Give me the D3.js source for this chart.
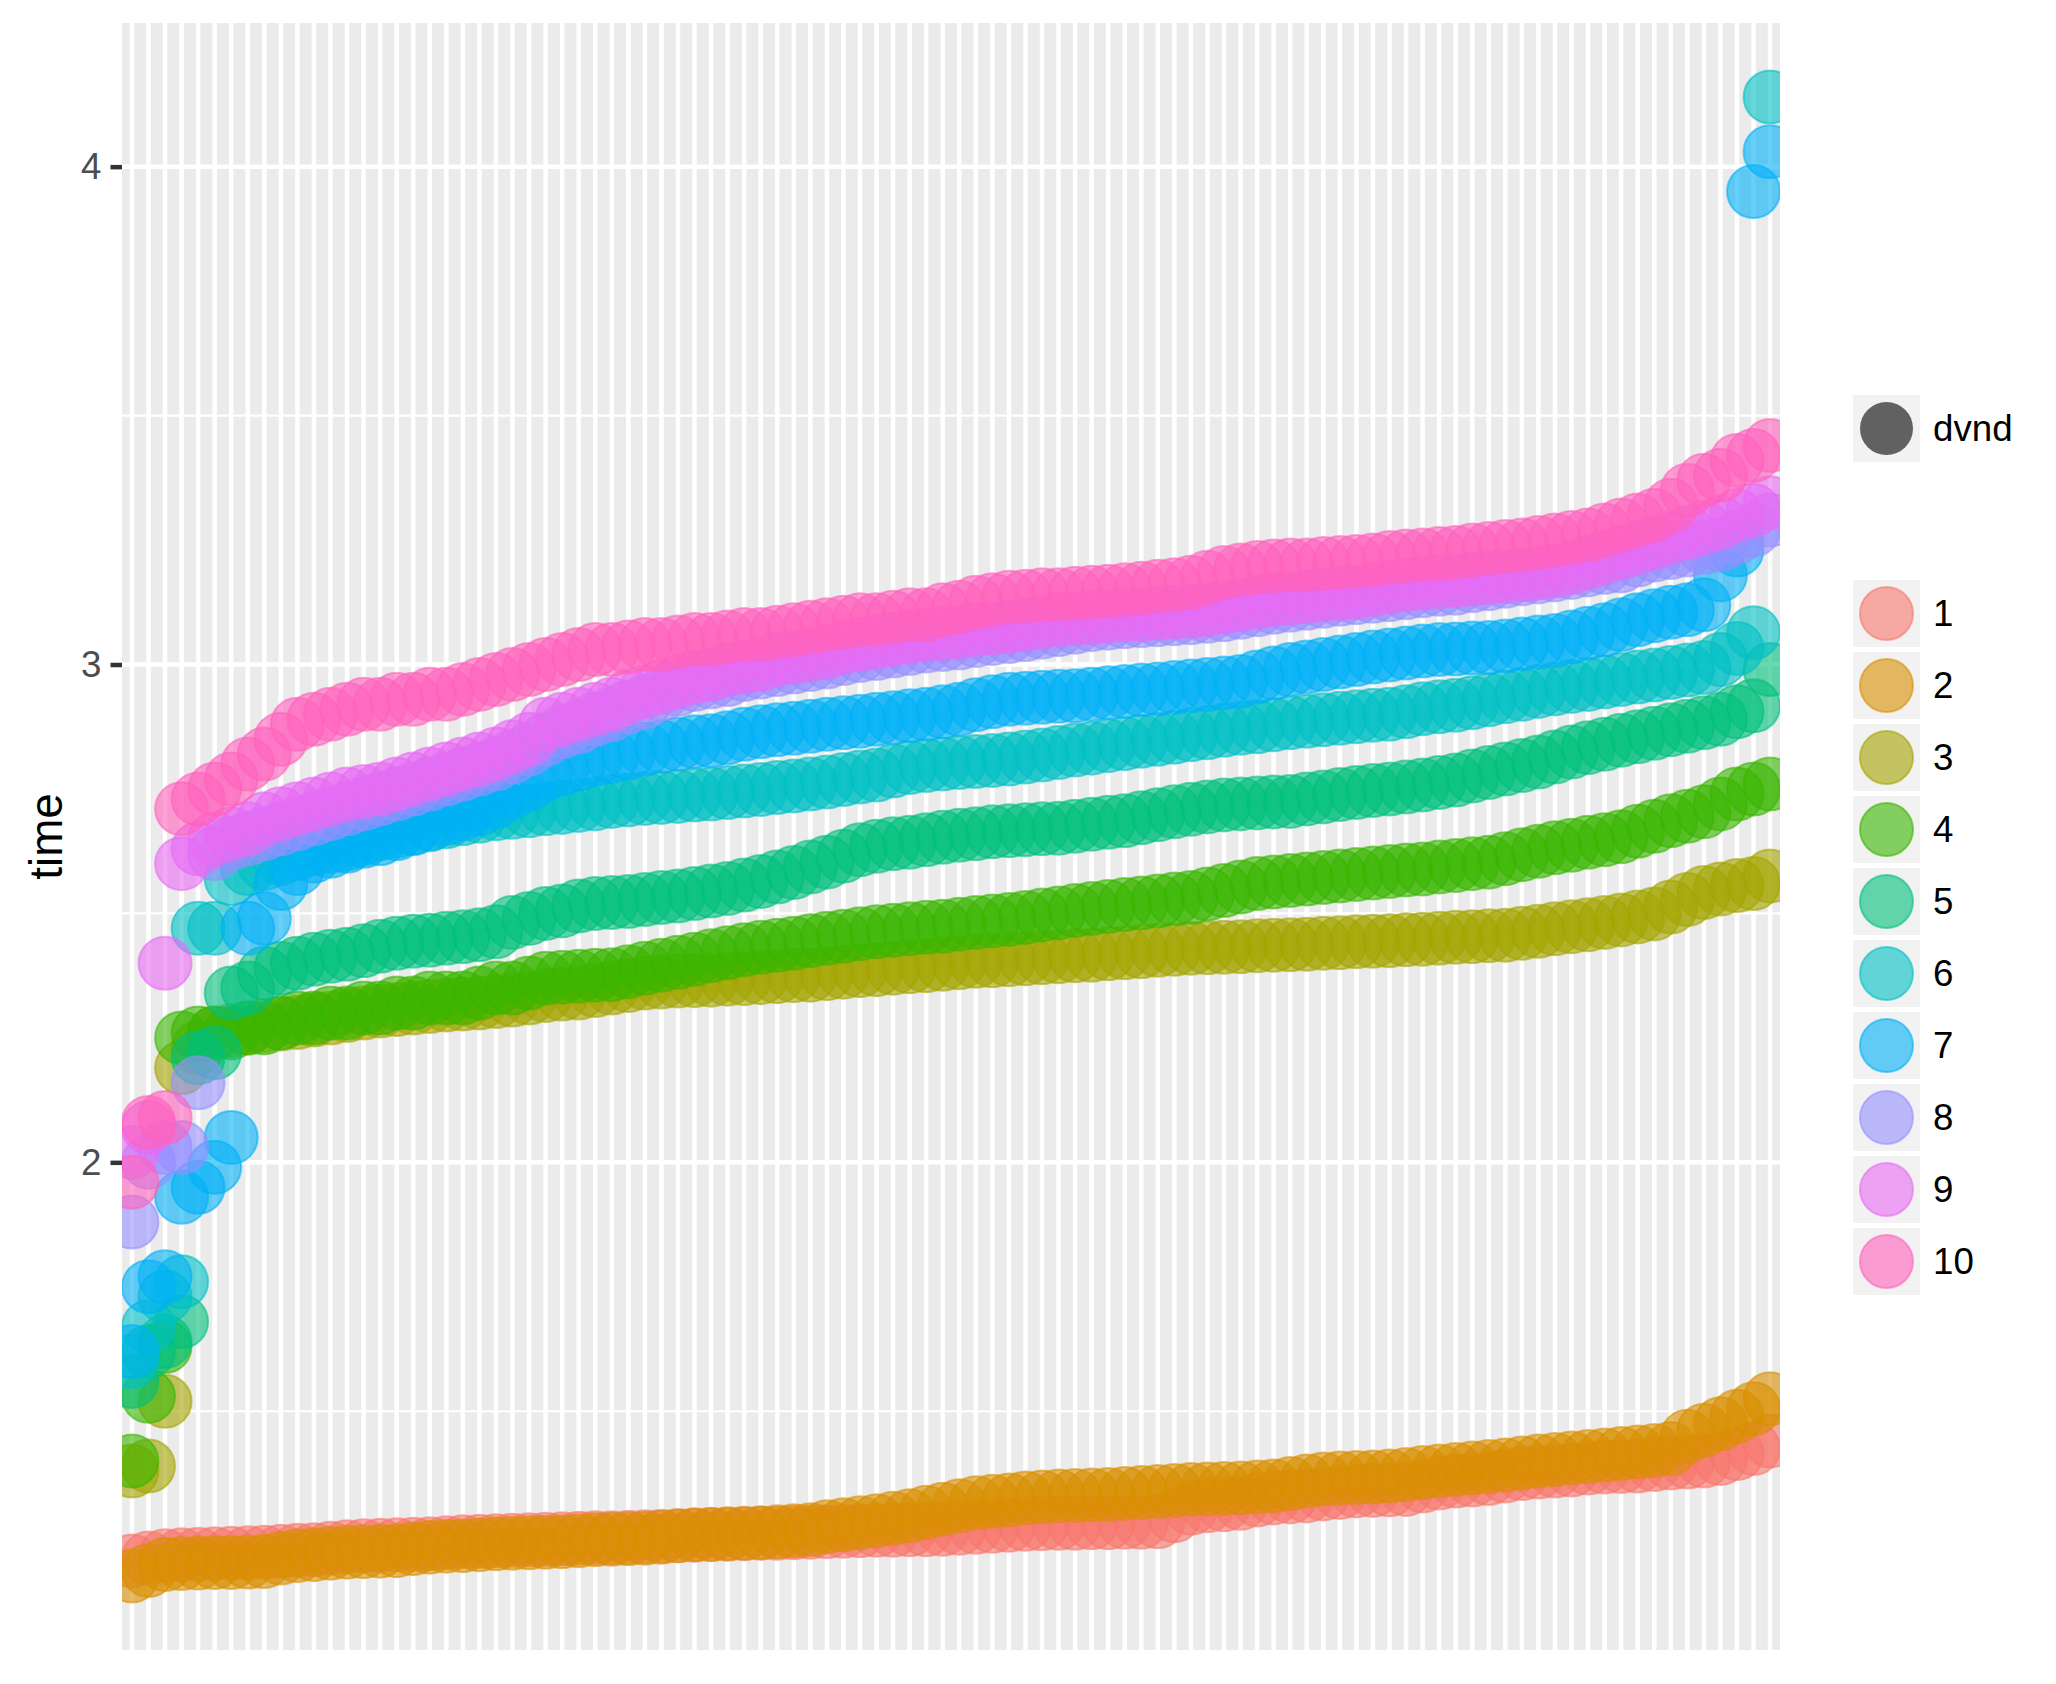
<!DOCTYPE html>
<html>
<head>
<meta charset="utf-8">
<script src="https://cdn.jsdelivr.net/npm/d3@7"></script>
<style>
  html, body { margin: 0; padding: 0; background: #ffffff; }
  svg { display: block; font-family: "Liberation Sans", Arial, Helvetica, sans-serif; }
</style>
</head>
<body>
<svg id="chart" width="2056" height="1684"></svg>
<script>
// ---------------- DATA ----------------
const categories = Array.from({ length: 100 }, (_, k) => String(k + 1));
const seriesNames = ["1", "2", "3", "4", "5", "6", "7", "8", "9", "10"];
const seriesColors = ["#F8766D", "#D89000", "#A3A500", "#39B600", "#00BF7D",
                      "#00BFC4", "#00B0F6", "#9590FF", "#E76BF3", "#FF62BC"];
const yTicks = [2, 3, 4];
const yMinorTicks = [1.5, 2.5, 3.5];
const sizeLegendLabel = "dvnd";
const yTitle = "time";

const series1 = [1.199,1.205,1.21,1.212,1.213,1.214,1.215,1.216,1.217,1.219,
 1.221,1.222,1.225,1.228,1.23,1.231,1.232,1.233,1.234,1.236,
 1.238,1.239,1.24,1.241,1.242,1.243,1.244,1.245,1.246,1.246,
 1.247,1.248,1.249,1.25,1.251,1.252,1.253,1.254,1.255,1.255,
 1.256,1.257,1.258,1.259,1.26,1.261,1.261,1.262,1.262,1.263,
 1.265,1.267,1.269,1.271,1.273,1.274,1.275,1.275,1.276,1.276,
 1.277,1.277,1.278,1.29,1.305,1.31,1.312,1.315,1.322,1.326,
 1.328,1.33,1.334,1.337,1.34,1.341,1.342,1.343,1.35,1.356,
 1.36,1.362,1.365,1.37,1.375,1.378,1.38,1.382,1.386,1.388,
 1.389,1.39,1.393,1.396,1.398,1.40,1.405,1.415,1.425,1.44];
const series2 = [1.169,1.18,1.192,1.194,1.195,1.196,1.196,1.197,1.198,1.205,
 1.21,1.212,1.215,1.217,1.218,1.219,1.22,1.224,1.227,1.229,
 1.23,1.232,1.234,1.235,1.236,1.237,1.238,1.24,1.242,1.243,
 1.244,1.245,1.247,1.25,1.252,1.253,1.254,1.255,1.256,1.258,
 1.26,1.262,1.268,1.272,1.276,1.28,1.285,1.29,1.297,1.303,
 1.31,1.316,1.319,1.322,1.326,1.328,1.33,1.331,1.332,1.333,
 1.335,1.337,1.339,1.341,1.343,1.344,1.345,1.346,1.348,1.35,
 1.355,1.36,1.364,1.366,1.367,1.368,1.37,1.373,1.377,1.38,
 1.383,1.386,1.389,1.392,1.396,1.40,1.403,1.406,1.409,1.412,
 1.415,1.418,1.421,1.425,1.45,1.462,1.475,1.49,1.505,1.525];
const series3 = [1.38,1.39,1.52,2.19,2.23,2.26,2.265,2.27,2.275,2.278,
 2.281,2.286,2.29,2.295,2.30,2.304,2.307,2.31,2.313,2.316,
 2.318,2.32,2.323,2.326,2.33,2.335,2.338,2.34,2.345,2.35,
 2.355,2.36,2.362,2.364,2.365,2.366,2.368,2.369,2.371,2.373,
 2.375,2.376,2.379,2.382,2.385,2.387,2.39,2.393,2.395,2.398,
 2.401,2.404,2.405,2.407,2.409,2.411,2.413,2.415,2.416,2.419,
 2.421,2.423,2.426,2.428,2.43,2.431,2.432,2.433,2.435,2.436,
 2.437,2.438,2.44,2.441,2.443,2.444,2.445,2.447,2.448,2.45,
 2.452,2.453,2.455,2.456,2.46,2.464,2.469,2.473,2.477,2.482,
 2.487,2.493,2.499,2.513,2.528,2.542,2.549,2.556,2.56,2.575];
const series4 = [1.40,1.53,1.63,2.25,2.26,2.26,2.26,2.27,2.27,2.28,
 2.29,2.29,2.30,2.30,2.31,2.31,2.32,2.32,2.33,2.33,
 2.33,2.34,2.35,2.35,2.36,2.37,2.372,2.374,2.376,2.377,
 2.383,2.39,2.396,2.402,2.408,2.415,2.421,2.427,2.432,2.436,
 2.44,2.445,2.45,2.454,2.459,2.463,2.466,2.469,2.472,2.474,
 2.478,2.482,2.485,2.488,2.492,2.497,2.501,2.506,2.51,2.514,
 2.518,2.521,2.525,2.529,2.532,2.539,2.546,2.553,2.56,2.563,
 2.566,2.569,2.572,2.575,2.578,2.581,2.584,2.587,2.589,2.593,
 2.596,2.60,2.603,2.61,2.618,2.625,2.632,2.637,2.643,2.648,
 2.654,2.665,2.675,2.686,2.695,2.704,2.72,2.74,2.75,2.76];
const series5 = [1.56,1.62,1.64,1.68,2.21,2.22,2.34,2.35,2.38,2.39,
 2.40,2.408,2.414,2.418,2.425,2.434,2.44,2.444,2.446,2.45,
 2.453,2.457,2.463,2.482,2.49,2.50,2.505,2.515,2.52,2.522,
 2.524,2.528,2.532,2.535,2.54,2.545,2.55,2.557,2.564,2.573,
 2.582,2.593,2.603,2.615,2.628,2.635,2.64,2.643,2.648,2.653,
 2.657,2.66,2.664,2.666,2.668,2.67,2.671,2.675,2.679,2.683,
 2.686,2.692,2.698,2.704,2.709,2.714,2.718,2.72,2.722,2.724,
 2.725,2.73,2.734,2.739,2.743,2.747,2.75,2.754,2.758,2.763,
 2.768,2.776,2.783,2.79,2.797,2.804,2.814,2.824,2.833,2.84,
 2.848,2.855,2.862,2.869,2.876,2.883,2.89,2.905,2.917,2.99];
const series6 = [1.60,1.67,1.73,1.76,2.47,2.47,2.57,2.59,2.60,2.61,
 2.62,2.63,2.635,2.64,2.65,2.66,2.665,2.672,2.678,2.684,
 2.69,2.695,2.70,2.703,2.706,2.71,2.713,2.717,2.72,2.725,
 2.728,2.731,2.733,2.735,2.738,2.74,2.743,2.746,2.749,2.753,
 2.756,2.76,2.764,2.769,2.774,2.778,2.786,2.793,2.797,2.80,
 2.803,2.805,2.807,2.81,2.814,2.818,2.823,2.828,2.832,2.837,
 2.841,2.846,2.85,2.854,2.859,2.863,2.868,2.872,2.875,2.879,
 2.883,2.886,2.889,2.892,2.895,2.898,2.90,2.905,2.911,2.915,
 2.918,2.923,2.929,2.935,2.94,2.946,2.951,2.956,2.96,2.965,
 2.97,2.975,2.979,2.984,2.989,2.994,3.01,3.032,3.064,4.14];
const series7 = [1.62,1.75,1.77,1.93,1.95,1.99,2.05,2.47,2.49,2.56,
 2.59,2.615,2.625,2.635,2.645,2.65,2.66,2.67,2.68,2.69,
 2.70,2.71,2.725,2.745,2.76,2.78,2.79,2.80,2.81,2.815,
 2.822,2.83,2.835,2.84,2.845,2.847,2.853,2.86,2.865,2.869,
 2.872,2.876,2.88,2.883,2.886,2.89,2.893,2.897,2.90,2.905,
 2.91,2.919,2.925,2.93,2.932,2.934,2.936,2.937,2.94,2.943,
 2.946,2.949,2.951,2.954,2.957,2.96,2.963,2.966,2.975,2.983,
 2.99,2.995,3.00,3.005,3.01,3.015,3.019,3.023,3.027,3.03,
 3.031,3.033,3.034,3.037,3.041,3.045,3.048,3.055,3.063,3.07,
 3.08,3.09,3.098,3.105,3.11,3.12,3.18,3.23,3.95,4.03];
const series8 = [1.88,2.00,2.03,2.03,2.16,2.62,2.64,2.65,2.66,2.67,
 2.68,2.69,2.70,2.71,2.72,2.73,2.74,2.75,2.76,2.77,
 2.78,2.79,2.80,2.815,2.83,2.85,2.865,2.875,2.89,2.90,
 2.915,2.925,2.94,2.95,2.96,2.965,2.97,2.98,2.985,2.99,
 2.995,3.00,3.005,3.012,3.018,3.022,3.027,3.032,3.037,3.04,
 3.043,3.048,3.052,3.056,3.06,3.065,3.07,3.075,3.08,3.083,
 3.086,3.088,3.09,3.092,3.094,3.097,3.10,3.105,3.11,3.115,
 3.119,3.123,3.127,3.131,3.134,3.137,3.14,3.144,3.148,3.151,
 3.153,3.158,3.162,3.167,3.172,3.176,3.18,3.185,3.19,3.195,
 3.198,3.21,3.22,3.225,3.23,3.235,3.24,3.255,3.27,3.29];
const series9 = [2.02,2.07,2.40,2.60,2.63,2.65,2.66,2.67,2.69,2.70,
 2.71,2.72,2.73,2.74,2.745,2.75,2.76,2.77,2.78,2.79,
 2.80,2.81,2.82,2.835,2.85,2.88,2.89,2.90,2.91,2.92,
 2.935,2.945,2.955,2.965,2.975,2.98,2.99,2.995,3.00,3.01,
 3.015,3.02,3.025,3.035,3.04,3.045,3.05,3.055,3.06,3.062,
 3.065,3.07,3.073,3.076,3.08,3.085,3.09,3.092,3.094,3.097,
 3.10,3.10,3.103,3.105,3.107,3.11,3.115,3.12,3.126,3.13,
 3.133,3.136,3.14,3.142,3.145,3.15,3.155,3.16,3.163,3.166,
 3.168,3.171,3.174,3.177,3.18,3.184,3.188,3.195,3.205,3.215,
 3.225,3.235,3.245,3.255,3.265,3.275,3.285,3.30,3.31,3.325];
const series10 = [1.96,2.08,2.09,2.71,2.73,2.75,2.77,2.80,2.82,2.85,
 2.88,2.89,2.90,2.91,2.92,2.92,2.93,2.93,2.94,2.94,
 2.95,2.96,2.97,2.98,2.99,3.00,3.01,3.02,3.03,3.03,
 3.035,3.04,3.04,3.045,3.05,3.05,3.055,3.06,3.06,3.065,
 3.07,3.075,3.08,3.085,3.09,3.09,3.095,3.10,3.10,3.11,
 3.115,3.125,3.13,3.135,3.137,3.14,3.14,3.143,3.145,3.147,
 3.15,3.153,3.157,3.16,3.165,3.175,3.185,3.19,3.195,3.198,
 3.20,3.20,3.203,3.205,3.207,3.21,3.215,3.218,3.22,3.223,
 3.225,3.23,3.233,3.237,3.24,3.245,3.25,3.255,3.26,3.27,
 3.28,3.29,3.30,3.32,3.35,3.37,3.38,3.41,3.42,3.44];

const allSeries = [series1, series2, series3, series4, series5,
                   series6, series7, series8, series9, series10];

// ---------------- LAYOUT ----------------
const panel = { left: 122, top: 23, right: 1780, bottom: 1650 };
const pointR = 26.5, pointStroke = 2, alpha = 0.6;

const svg = d3.select("#chart");

// scales
const allVals = allSeries.flat();
const yLo = d3.min(allVals), yHi = d3.max(allVals);
const yPad = (yHi - yLo) * 0.05;
const y = d3.scaleLinear().domain([yLo - yPad, yHi + yPad]).range([panel.bottom, panel.top]);
const x = d3.scalePoint().domain(categories).range([panel.left, panel.right]).padding(0.6);

// panel background
svg.append("rect")
  .attr("x", panel.left).attr("y", panel.top)
  .attr("width", panel.right - panel.left).attr("height", panel.bottom - panel.top)
  .attr("fill", "#EBEBEB");

// minor horizontal grid
svg.append("g").selectAll("line").data(yMinorTicks).join("line")
  .attr("x1", panel.left).attr("x2", panel.right)
  .attr("y1", d => y(d)).attr("y2", d => y(d))
  .attr("stroke", "#ffffff").attr("stroke-width", 2.2);

// major horizontal grid
svg.append("g").selectAll("line").data(yTicks).join("line")
  .attr("x1", panel.left).attr("x2", panel.right)
  .attr("y1", d => y(d)).attr("y2", d => y(d))
  .attr("stroke", "#ffffff").attr("stroke-width", 4.5);

// major vertical grid (one per category)
svg.append("g").selectAll("line").data(categories).join("line")
  .attr("x1", d => x(d)).attr("x2", d => x(d))
  .attr("y1", panel.top).attr("y2", panel.bottom)
  .attr("stroke", "#ffffff").attr("stroke-width", 4.5);

// clip
svg.append("clipPath").attr("id", "panelClip").append("rect")
  .attr("x", panel.left).attr("y", panel.top)
  .attr("width", panel.right - panel.left).attr("height", panel.bottom - panel.top);

// points
const pts = [];
allSeries.forEach((vals, s) => {
  vals.forEach((v, i) => pts.push({ s, cat: categories[i], v }));
});
svg.append("g").attr("clip-path", "url(#panelClip)")
  .selectAll("circle").data(pts).join("circle")
  .attr("cx", d => x(d.cat))
  .attr("cy", d => y(d.v))
  .attr("r", pointR)
  .attr("fill", d => seriesColors[d.s]).attr("fill-opacity", alpha)
  .attr("stroke", d => seriesColors[d.s]).attr("stroke-opacity", alpha)
  .attr("stroke-width", pointStroke);

// y axis
const yAxis = d3.axisLeft(y).tickValues(yTicks).tickSize(11.5).tickPadding(9)
  .tickFormat(d3.format("d"));
const gy = svg.append("g").attr("transform", `translate(${panel.left},0)`).call(yAxis);
gy.select(".domain").remove();
gy.selectAll(".tick line").attr("stroke", "#333333").attr("stroke-width", 4.5);
gy.selectAll(".tick text").attr("fill", "#4D4D4D")
  .attr("font-size", 36.7).attr("font-family", "'Liberation Sans', Arial, sans-serif");

// y title
svg.append("text")
  .attr("transform", `translate(46,${(panel.top + panel.bottom) / 2}) rotate(-90)`)
  .attr("text-anchor", "middle").attr("dominant-baseline", "central")
  .attr("font-size", 45.8).attr("fill", "#000000")
  .text(yTitle);

// legend: size key
const keyX = 1853, keyW = 67, keyH = 67, labelX = 1933;
const sizeKey = svg.append("g");
sizeKey.append("rect").attr("x", keyX).attr("y", 395).attr("width", keyW).attr("height", keyH)
  .attr("fill", "#F2F2F2");
sizeKey.append("circle").attr("cx", keyX + keyW / 2).attr("cy", 395 + keyH / 2).attr("r", pointR)
  .attr("fill", "#000000").attr("fill-opacity", alpha).attr("stroke", "none");
sizeKey.append("text").attr("x", labelX).attr("y", 395 + keyH / 2)
  .attr("dominant-baseline", "central").attr("font-size", 36.7).attr("fill", "#000000")
  .text(sizeLegendLabel);

// legend: colour keys
const colTop = 580, colStep = 72;
const lg = svg.append("g").selectAll("g").data(seriesNames).join("g")
  .attr("transform", (d, k) => `translate(${keyX},${colTop + k * colStep})`);
lg.append("rect").attr("width", keyW).attr("height", keyH).attr("fill", "#F2F2F2");
lg.append("circle").attr("cx", keyW / 2).attr("cy", keyH / 2).attr("r", pointR)
  .attr("fill", (d, k) => seriesColors[k]).attr("fill-opacity", alpha)
  .attr("stroke", (d, k) => seriesColors[k]).attr("stroke-opacity", alpha)
  .attr("stroke-width", pointStroke);
lg.append("text").attr("x", labelX - keyX).attr("y", keyH / 2)
  .attr("dominant-baseline", "central").attr("font-size", 36.7).attr("fill", "#000000")
  .text(d => d);
</script>
</body>
</html>
